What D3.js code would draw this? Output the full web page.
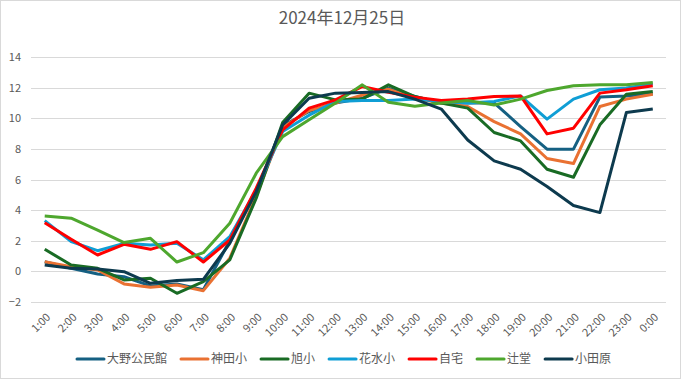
<!DOCTYPE html>
<html>
<head>
<meta charset="utf-8">
<script src="https://cdn.jsdelivr.net/npm/d3@7"></script>
<style>
  body { margin: 0; background: #fff; }
  text { font-family: "Noto Sans CJK JP", "Liberation Sans", sans-serif; fill: #595959; }
</style>
</head>
<body>
<div id="chart-container"></div>
<script>
// Categories (hours) and y ticks
const hours = ['1:00', '2:00', '3:00', '4:00', '5:00', '6:00', '7:00', '8:00', '9:00', '10:00',
  '11:00', '12:00', '13:00', '14:00', '15:00', '16:00', '17:00', '18:00', '19:00', '20:00',
  '21:00', '22:00', '23:00', '0:00'];
const yTicks = [-2, 0, 2, 4, 6, 8, 10, 12, 14];

// Series values
const ono = [0.63, 0.2, -0.17, -0.35, -0.95, -0.82, -1.2, 2.0, 5.2, 9.5, 10.44, 11.0, 11.3, 11.96,
  11.42, 11.0, 11.0, 11.0, 9.46, 7.98, 7.98, 11.38, 11.46, 11.6];
const kanda = [0.63, 0.31, 0.09, -0.82, -1.04, -0.89, -1.26, 0.86, 4.93, 9.4, 10.5, 11.0, 11.5, 11.9,
  11.3, 11.0, 10.77, 9.78, 8.98, 7.37, 7.04, 10.77, 11.25, 11.57];
const asahi = [1.44, 0.42, 0.2, -0.56, -0.45, -1.43, -0.67, 0.75, 4.78, 9.72, 11.64, 11.2, 11.25, 12.18,
  11.42, 11.0, 10.66, 9.07, 8.52, 6.67, 6.15, 9.57, 11.57, 11.74];
const hanamizu = [3.31, 1.94, 1.35, 1.83, 1.72, 1.83, 0.75, 2.27, 5.32, 9.13, 10.2, 11.09, 11.16, 11.16,
  11.25, 11.1, 11.0, 11.1, 11.46, 9.94, 11.25, 11.86, 11.97, 12.25];
const jitaku = [3.18, 2.1, 1.07, 1.77, 1.44, 1.94, 0.61, 2.05, 5.43, 9.24, 10.66, 11.2, 12.07, 11.7,
  11.38, 11.16, 11.25, 11.42, 11.46, 8.98, 9.35, 11.64, 11.86, 12.12];
const tsujido = [3.62, 3.47, 2.7, 1.88, 2.16, 0.61, 1.22, 3.14, 6.41, 8.8, 9.9, 11.0, 12.18, 11.04,
  10.79, 10.99, 11.16, 10.86, 11.25, 11.81, 12.12, 12.18, 12.18, 12.33];
const odawara = [0.42, 0.2, 0.15, -0.02, -0.78, -0.6, -0.52, 1.83, 5.21, 9.57, 11.31, 11.64, 11.68, 11.74,
  11.25, 10.6, 8.58, 7.22, 6.67, 5.54, 4.3, 3.84, 10.37, 10.6];

const seriesNames = ['大野公民館', '神田小', '旭小', '花水小', '自宅', '辻堂', '小田原'];
const seriesValues = [ono, kanda, asahi, hanamizu, jitaku, tsujido, odawara];
const seriesColors = ['#156082', '#E97132', '#196B24', '#0F9ED5', '#FF0000', '#4EA72E', '#0D3A4E'];

const width = 681;
const height = 379;

const svg = d3.select('#chart-container')
  .append('svg')
  .attr('width', width)
  .attr('height', height);

// chart area border
svg.append('rect')
  .attr('x', 0.5).attr('y', 0.5)
  .attr('width', width - 1).attr('height', height - 1)
  .attr('fill', '#fff')
  .attr('stroke', '#d9d9d9');

svg.append('text')
  .attr('x', 342)
  .attr('y', 24)
  .attr('text-anchor', 'middle')
  .attr('font-size', 17)
  .text('2024年12月25日');

const x = d3.scalePoint()
  .domain(hours)
  .range([31.5, 666])
  .padding(0.5);

const y = d3.scaleLinear()
  .domain([-2, 14])
  .range([302, 57]);

// gridlines
svg.append('g')
  .selectAll('line')
  .data(yTicks)
  .join('line')
  .attr('x1', 31)
  .attr('x2', 666)
  .attr('y1', (d) => Math.round(y(d)) + 0.5)
  .attr('y2', (d) => Math.round(y(d)) + 0.5)
  .attr('stroke', '#d9d9d9')
  .attr('stroke-width', 1);

// y axis labels
const yAxis = svg.append('g')
  .attr('transform', 'translate(23,0)')
  .call(d3.axisLeft(y).tickValues(yTicks).tickSize(0).tickPadding(2));
yAxis.select('.domain').remove();
yAxis.selectAll('text')
  .attr('font-family', 'Liberation Sans, sans-serif')
  .attr('font-size', 11)
  .attr('fill', '#595959');

// x axis labels
const xAxis = svg.append('g')
  .attr('transform', 'translate(0,302)')
  .call(d3.axisBottom(x).tickSize(0));
xAxis.select('.domain').remove();
xAxis.selectAll('text')
  .attr('font-family', 'Liberation Sans, sans-serif')
  .attr('font-size', 11)
  .attr('fill', '#595959')
  .attr('text-anchor', 'end')
  .attr('dy', '0.35em')
  .attr('transform', 'translate(1,11) rotate(-45)');

// lines
const line = d3.line()
  .x((d, i) => x(hours[i]))
  .y((d) => y(d));

svg.append('g')
  .selectAll('path')
  .data(seriesValues)
  .join('path')
  .attr('fill', 'none')
  .attr('stroke', (d, i) => seriesColors[i])
  .attr('stroke-width', 3)
  .attr('stroke-linejoin', 'round')
  .attr('d', line);

// legend
const legend = svg.append('g').attr('transform', 'translate(0,359)');
let lx = 77;
seriesNames.forEach((name, i) => {
  const item = legend.append('g');
  item.append('line')
    .attr('x1', lx).attr('x2', lx + 27)
    .attr('y1', 0).attr('y2', 0)
    .attr('stroke', seriesColors[i])
    .attr('stroke-width', 3)
    .attr('stroke-linecap', 'round');
  const t = item.append('text')
    .attr('x', lx + 30)
    .attr('y', 0)
    .attr('dy', '0.35em')
    .attr('font-size', 12)
    .text(name);
  lx += 30 + t.node().getComputedTextLength() + 14;
});
</script>
</body>
</html>
